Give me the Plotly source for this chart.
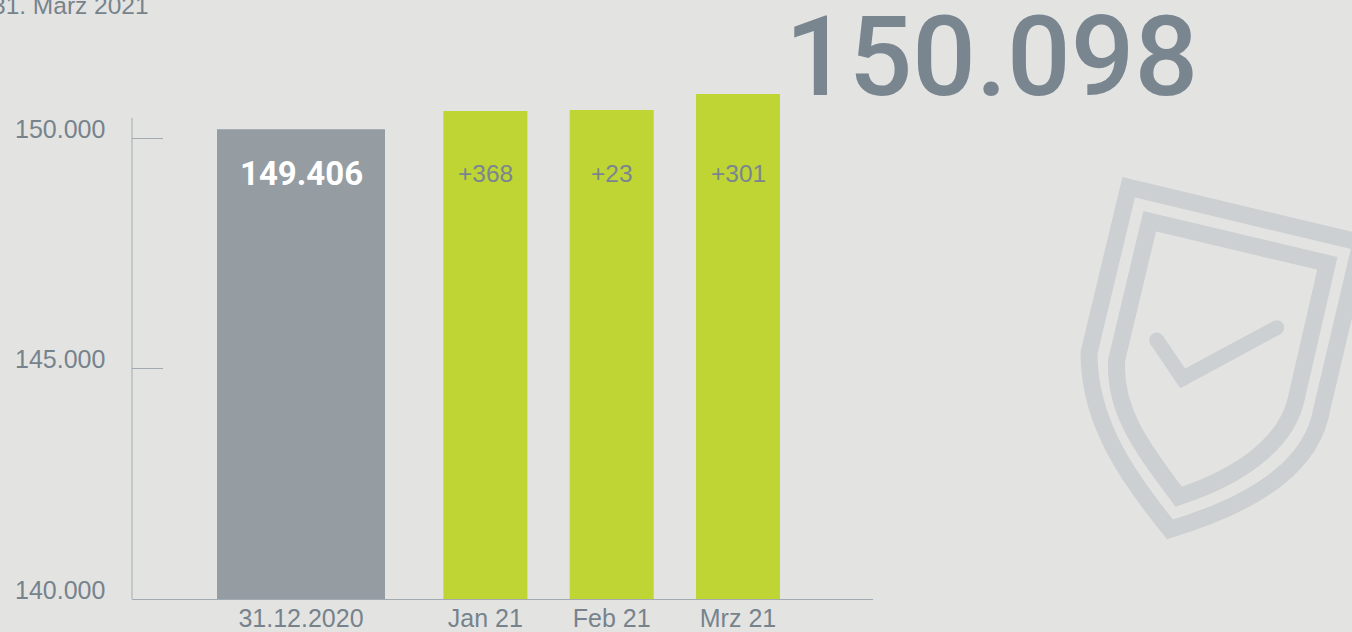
import plotly.graph_objects as go

# ---- data -------------------------------------------------------------
categories = ["31.12.2020", "Jan 21", "Feb 21", "Mrz 21"]
slots = [0.0, 1.46, 2.46, 3.46]
bar_heights = [150190, 150586, 150608, 150955]   # as drawn against the axis
bar_labels = ["149.406", "+368", "+23", "+301"]
y_ticks = [140000, 145000, 150000]
y_tick_labels = ["140.000", "145.000", "150.000"]
title_text = "31. März 2021"
total_text = "150.098"

# ---- style ------------------------------------------------------------
W, H = 1352, 632
L, R, T, B = 132, 873, 80, 599
BG = "#e3e4e2"
GREY = "#959da3"
GREEN = "#bed534"
TEXT = "#77838c"
AXIS = "#a3abb2"
SHIELD = "#cdd0d2"
FONT = "Liberation Sans"
SLOT_PX = 126.3
X0_PX = 301
Y_SCALE = 46.1 / 1000
AXIS_TOP = 140000 + (599 - 118) / Y_SCALE


def px(x):
    return (x - L) / (R - L)


def py(y):
    return (B - y) / (B - T)


def zx(x):
    return px(1050 + x / 3)


def zy(y):
    return py(160 + y / 3)


def path(cmds):
    out = []
    for c, pts in cmds:
        out.append(c + " ".join(f"{zx(a):.5f},{zy(b):.5f}" for a, b in pts))
    return " ".join(out) + " "


fig = go.Figure()
fig.add_trace(go.Bar(
    x=slots, y=[h - 140000 for h in bar_heights], base=140000,
    width=[168 / SLOT_PX, 84 / SLOT_PX, 84 / SLOT_PX, 84 / SLOT_PX],
    marker=dict(color=[GREY, GREEN, GREEN, GREEN], line=dict(width=0)),
    hoverinfo="skip", showlegend=False,
))

x_range = [(L - X0_PX) / SLOT_PX, (R - X0_PX) / SLOT_PX]
y_range = [140000, 140000 + (B - T) / Y_SCALE]

fig.update_xaxes(
    range=x_range, tickmode="array", tickvals=slots, ticktext=categories,
    ticks="", showgrid=False, zeroline=False, showline=True, automargin=False,
    linecolor=AXIS, linewidth=1, ticklabelstandoff=-3,
    tickfont=dict(family=FONT, size=25, color=TEXT),
)
fig.update_yaxes(
    range=y_range, tickmode="array", tickvals=y_ticks, showticklabels=False,
    ticks="inside", ticklen=31, tickwidth=1, tickcolor=AXIS, automargin=False,
    showgrid=False, zeroline=False, showline=False,
)

annotations = []
for v, t in zip(y_ticks, y_tick_labels):
    annotations.append(dict(
        x=px(107), xref="paper", y=v, yref="y", yshift=9.5, text=t,
        showarrow=False, xanchor="right", yanchor="middle",
        font=dict(family=FONT, size=25, color=TEXT)))
for i, (s, t) in enumerate(zip(slots, bar_labels)):
    annotations.append(dict(
        x=s, xref="x", y=py(173), yref="paper", text=t, showarrow=False,
        xanchor="center", yanchor="middle",
        font=dict(family="Roboto" if i == 0 else FONT, size=33 if i == 0 else 24.5,
                  color="#ffffff" if i == 0 else "#7b8591",
                  weight=700 if i == 0 else 400)))
annotations.append(dict(
    x=px(-10), xref="paper", y=py(5), yref="paper", text=title_text,
    showarrow=False, xanchor="left", yanchor="middle",
    font=dict(family=FONT, size=24.5, color=TEXT)))
annotations.append(dict(
    x=px(991.5), xref="paper", y=py(56), yref="paper", text=total_text,
    showarrow=False, xanchor="center", yanchor="middle",
    font=dict(family="Roboto", size=112, color="#7a868f", weight=500)))

outer = path([("M", [(236, 82)]), ("L", [(933, 248)]), ("L", [(816, 745)]),
              ("C", [(790, 900), (650, 1020), (360, 1108)]),
              ("C", [(240, 960), (116, 790), (117, 578)])]) + "Z"
inner = path([("M", [(299, 184)]), ("L", [(832, 310)]), ("L", [(739, 715)]),
              ("C", [(710, 850), (570, 950), (386, 1010)]),
              ("C", [(290, 880), (190, 760), (200, 600)])]) + "Z"
check = path([("M", [(320, 540)]), ("L", [(398, 655)]), ("L", [(680, 503)])])
shapes = [
    dict(type="line", xref="x domain", yref="y", x0=0, x1=0, y0=140000, y1=AXIS_TOP,
         line=dict(color=AXIS, width=1), layer="above"),
    dict(type="path", xref="paper", yref="paper", path=outer,
         line=dict(color=SHIELD, width=17), layer="below"),
    dict(type="path", xref="paper", yref="paper", path=inner,
         line=dict(color=SHIELD, width=17), layer="below"),
    dict(type="path", xref="paper", yref="paper", path=check,
         line=dict(color=SHIELD, width=15), layer="below"),
]
for cx, cy in [(320, 540), (398, 655), (680, 503)]:
    shapes.append(dict(
        type="circle", xref="paper", yref="paper", layer="below",
        x0=zx(cx) - 7.5 / (R - L), x1=zx(cx) + 7.5 / (R - L),
        y0=zy(cy) - 7.5 / (B - T), y1=zy(cy) + 7.5 / (B - T),
        fillcolor=SHIELD, line=dict(width=0)))

fig.update_layout(
    width=W, height=H, autosize=False,
    margin=dict(l=L, r=W - R, t=T, b=H - B, pad=0),
    paper_bgcolor=BG, plot_bgcolor="rgba(0,0,0,0)",
    showlegend=False, annotations=annotations, shapes=shapes,
)
fig.write_html("out.html", config={"displayModeBar": False},
               post_script="document.body.style.margin='0';document.body.style.background='%s';" % BG)
